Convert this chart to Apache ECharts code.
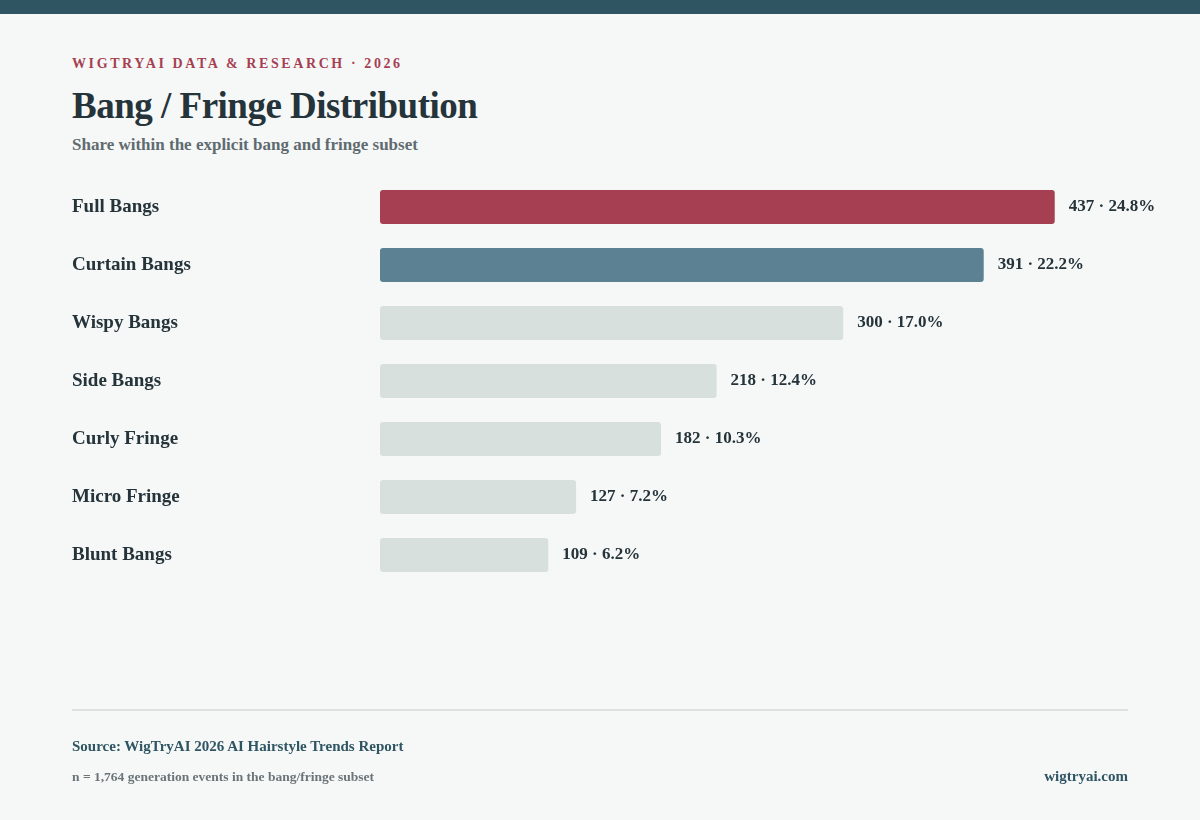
<!DOCTYPE html>
<html><head><meta charset="utf-8">
<script src="https://cdn.jsdelivr.net/npm/echarts@6/dist/echarts.min.js"></script>
<style>
html,body{margin:0;padding:0;background:#f6f8f7;width:1200px;height:820px;overflow:hidden;font-family:"Liberation Serif","DejaVu Serif",serif;}
#top{position:absolute;left:0;top:0;width:1200px;height:14px;background:#2f5563;}
.t{position:absolute;font-weight:bold;white-space:nowrap;}
#chart{position:absolute;left:0;top:0;width:1200px;height:820px;}
</style></head><body>
<div id="top"></div>
<div class="t" style="left:72px;top:56px;font-size:14px;letter-spacing:2.6px;color:#a63f52;">WIGTRYAI DATA &amp; RESEARCH · 2026</div>
<div class="t" style="left:72px;top:84px;font-size:37px;color:#25333a;letter-spacing:-0.5px;">Bang / Fringe Distribution</div>
<div class="t" style="left:72px;top:135px;font-size:17px;color:#5f6b70;">Share within the explicit bang and fringe subset</div>
<div id="chart"></div>
<div style="position:absolute;left:72px;top:709px;width:1056px;height:2px;background:#dde2e0;"></div>
<div class="t" style="left:72px;top:738px;font-size:15px;color:#2f5563;">Source: WigTryAI 2026 AI Hairstyle Trends Report</div>
<div class="t" style="left:72px;top:769px;font-size:13.5px;color:#6b7478;">n = 1,764 generation events in the bang/fringe subset</div>
<div class="t" style="right:72px;top:768px;font-size:15px;color:#2f5563;">wigtryai.com</div>
<script>
const categories=["Full Bangs","Curtain Bangs","Wispy Bangs","Side Bangs","Curly Fringe","Micro Fringe","Blunt Bangs"];
const counts=[437,391,300,218,182,127,109];
const shares=["24.8%","22.2%","17.0%","12.4%","10.3%","7.2%","6.2%"];
const colors=["#a63f52","#5b8193","#d8e0dd","#d8e0dd","#d8e0dd","#d8e0dd","#d8e0dd"];
const c=echarts.init(document.getElementById('chart'));
c.setOption({
 animation:false,
 grid:{left:380,top:178,width:772,height:406},
 xAxis:{type:'value',min:0,max:500,show:false},
 yAxis:{type:'category',inverse:true,data:categories,axisLine:{show:false},axisTick:{show:false},
  axisLabel:{align:'left',margin:308,fontFamily:'Liberation Serif',fontWeight:'bold',fontSize:19,color:'#25333a'}},
 series:[{type:'bar',barWidth:34,
  data:counts.map((v,i)=>({value:v,itemStyle:{color:colors[i],borderRadius:3}})),
  label:{show:true,position:'right',distance:14,fontFamily:'Liberation Serif',fontWeight:'bold',fontSize:17,color:'#25333a',
   formatter:p=>counts[p.dataIndex]+' · '+shares[p.dataIndex]}}]
});
</script></body></html>
